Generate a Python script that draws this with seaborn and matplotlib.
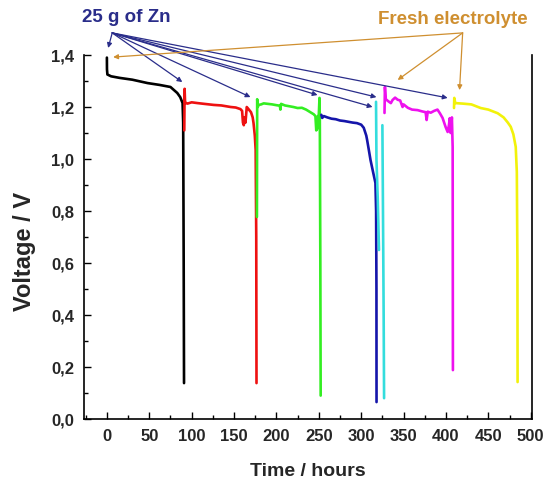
import matplotlib
matplotlib.use("Agg")
import matplotlib.pyplot as plt
import seaborn as sns
from matplotlib.ticker import MultipleLocator, FuncFormatter

# ---------------- data (time in hours, voltage in V) ----------------
black_t = [0, 0.1, 0.6, 5, 15, 30, 48, 62, 75, 83, 86.5, 89.3, 90.0, 90.6, 91.0]
black_v = [1.39, 1.345, 1.325, 1.318, 1.312, 1.305, 1.292, 1.285, 1.277, 1.254, 1.238, 1.215, 1.14, 0.6, 0.138]

red_t = [91.3, 91.7, 92.2, 93.5, 95, 100, 107, 115, 126, 135, 146, 152, 157.5, 159.5, 160.5,
         161.5, 162.5, 163.5, 165, 166, 168, 170, 172, 173, 174.5, 175.5, 176.2, 176.5]
red_v = [1.11, 1.27, 1.22, 1.215, 1.213, 1.218, 1.215, 1.212, 1.208, 1.206, 1.200, 1.198, 1.192, 1.185, 1.14,
         1.13, 1.16, 1.14, 1.20, 1.196, 1.188, 1.18, 1.16, 1.138, 1.09, 1.035, 0.7, 0.138]

green_t = [177, 177.3, 178, 179, 182, 185, 190, 195, 200, 204, 204.7, 205.5, 210, 215, 220, 225, 230,
           235, 240, 244, 246, 247, 247.5, 248, 249, 250, 250.8, 251.2, 251.8, 252.2]
green_v = [0.777, 1.23, 1.20, 1.208, 1.21, 1.214, 1.212, 1.21, 1.207, 1.205, 1.19, 1.212, 1.206, 1.203, 1.2,
           1.196, 1.197, 1.19, 1.18, 1.172, 1.165, 1.11, 1.16, 1.115, 1.165, 1.17, 1.235, 1.15, 0.6, 0.09]

blue_t = [253, 254, 256, 260, 265, 270, 275, 280, 285, 290, 295, 300, 303, 306, 307, 309, 311, 314,
          316.8, 317.6, 318, 318.1]
blue_v = [1.17, 1.158, 1.165, 1.16, 1.155, 1.153, 1.148, 1.146, 1.143, 1.14, 1.138, 1.132, 1.12, 1.09,
          1.073, 1.035, 0.996, 0.95, 0.908, 0.8, 0.5, 0.065]

cyan_a_t = [317.5, 318.0, 319.5, 321.0]
cyan_a_v = [1.22, 1.0, 0.85, 0.65]
cyan_b_t = [325.0, 325.5, 326.5, 327.0]
cyan_b_v = [1.13, 0.9, 0.4, 0.08]

magenta_t = [327.5, 328, 329, 332, 335, 337, 340, 343, 346, 348.8, 350, 355, 360, 366.5, 372, 376, 377.2,
             378.5, 382, 386, 390, 393, 396, 399.6, 402, 403.5, 404.5, 405.5, 407, 407.9, 408.2]
magenta_v = [1.177, 1.277, 1.23, 1.222, 1.215, 1.227, 1.236, 1.228, 1.225, 1.20, 1.21, 1.197, 1.19, 1.188,
             1.183, 1.18, 1.15, 1.182, 1.178, 1.185, 1.19, 1.175, 1.158, 1.123, 1.104, 1.13, 1.157, 1.10,
             1.16, 1.046, 0.188]

yellow_t = [409.5, 409.8, 411, 420, 430, 441, 450, 461, 468, 473, 476.4, 479.5, 482.3, 483.6, 484.3, 484.5]
yellow_v = [1.196, 1.235, 1.215, 1.213, 1.21, 1.196, 1.19, 1.176, 1.16, 1.14, 1.124, 1.095, 1.047, 0.95,
            0.6, 0.142]

x_ticks = [0, 50, 100, 150, 200, 250, 300, 350, 400, 450, 500]
y_ticks = [0.0, 0.2, 0.4, 0.6, 0.8, 1.0, 1.2, 1.4]

zn_label = "25 g of Zn"
el_label = "Fresh electrolyte"
zn_origin = (6.3, 1.485)
zn_targets = [(1.5, 1.427), (89, 1.296), (169.4, 1.238), (248.5, 1.246), (313.4, 1.2), (318, 1.238), (402, 1.235)]
el_origin = (419.7, 1.485)
el_targets = [(7.4, 1.392), (343, 1.304), (416, 1.265)]

# ---------------- plot ----------------
sns.set_theme(style="white")
plt.rcParams['font.family'] = ['Liberation Sans', 'DejaVu Sans']

fig = plt.figure(figsize=(5.5, 4.86), dpi=100)
ax = fig.add_axes([84 / 550, 1 - 419 / 486, (532 - 84) / 550, (419 - 55) / 486])

series = [
    (black_t, black_v, "#000000"),
    (red_t, red_v, "#ee1111"),
    (green_t, green_v, "#33ee22"),
    (blue_t, blue_v, "#1515aa"),
    (cyan_a_t, cyan_a_v, "#33dddd"),
    (cyan_b_t, cyan_b_v, "#33dddd"),
    (magenta_t, magenta_v, "#ee11ee"),
    (yellow_t, yellow_v, "#f2f20a"),
]
for t, v, c in series:
    sns.lineplot(x=t, y=v, color=c, lw=1.9, ax=ax, sort=False, estimator=None)

ax.set_xlim(-27, 501.5)
ax.set_ylim(0, 1.4)
ax.set_xticks(x_ticks)
ax.set_yticks(y_ticks)
ax.xaxis.set_minor_locator(MultipleLocator(25))
ax.yaxis.set_minor_locator(MultipleLocator(0.1))
ax.yaxis.set_major_formatter(FuncFormatter(lambda v, p: f"{v:.1f}".replace('.', ',')))

for side in ['left', 'bottom', 'right']:
    ax.spines[side].set_visible(True)
    ax.spines[side].set_color('black')
    ax.spines[side].set_linewidth(1.2)
ax.spines['top'].set_visible(False)

ax.tick_params(which='both', direction='in', left=True, bottom=True, right=False, top=False,
               color='black', width=1.0)
ax.tick_params(which='major', length=5, labelsize=12, pad=7)
ax.tick_params(which='minor', length=3)
for lab in ax.get_xticklabels() + ax.get_yticklabels():
    lab.set_fontweight('bold')

ax.set_xlabel("Time / hours", fontsize=14, fontweight='bold')
ax.set_ylabel("Voltage / V", fontsize=17, fontweight='bold')
ax.xaxis.set_label_coords(0.5, -0.121)
ax.yaxis.set_label_coords(-0.107, 0.46)

zn_color = "#2a2d8a"
el_color = "#cf8f30"
ax.text(23, 1.544, zn_label, ha='center', va='center', fontsize=13.5, fontweight='bold',
        color=zn_color, clip_on=False)
ax.text(408, 1.537, el_label, ha='center', va='center', fontsize=13.5, fontweight='bold',
        color=el_color, clip_on=False)
for tgt in zn_targets:
    ax.annotate('', xy=tgt, xytext=zn_origin, annotation_clip=False,
                arrowprops=dict(arrowstyle='-|>', color=zn_color, lw=0.9, mutation_scale=7,
                                shrinkA=0, shrinkB=0))
for tgt in el_targets:
    ax.annotate('', xy=tgt, xytext=el_origin, annotation_clip=False,
                arrowprops=dict(arrowstyle='-|>', color=el_color, lw=0.9, mutation_scale=7,
                                shrinkA=0, shrinkB=0))

fig.savefig("out.png", dpi=100)
